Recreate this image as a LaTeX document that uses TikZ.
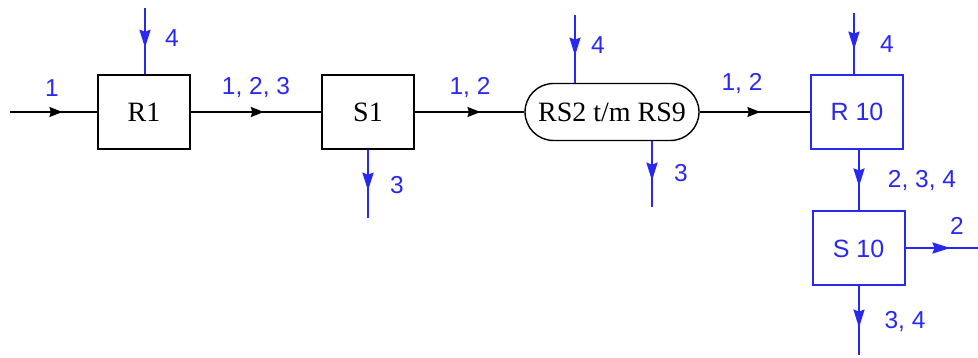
\documentclass[tikz,border=0pt]{standalone}
\usepackage{fontspec}
\setmainfont{Liberation Serif}
\setsansfont{Liberation Sans}
\usetikzlibrary{arrows.meta,decorations.markings,shapes.misc}
\definecolor{flowblue}{RGB}{40,40,240}
\begin{document}
\begin{tikzpicture}[x=1pt,y=-1pt,
  blk/.style={draw=black,line width=1.4pt,minimum width=92pt,minimum height=74pt,inner sep=0pt,font=\fontsize{28}{30}\selectfont},
  bblk/.style={draw=flowblue,line width=2pt,minimum width=92pt,minimum height=74pt,inner sep=0pt,text=flowblue,font=\sffamily\fontsize{25}{28}\selectfont},
  pill/.style={draw=black,line width=1.4pt,rounded rectangle,minimum width=174pt,minimum height=57pt,inner sep=0pt,font=\fontsize{28}{30}\selectfont},
  lbl/.style={text=flowblue,font=\sffamily\fontsize{24.5}{28}\selectfont,inner sep=0pt},
  kflow/.style={draw=black,line width=1.4pt,postaction={decorate},decoration={markings,mark=at position #1 with {\arrow{Stealth[length=13pt,width=10pt,inset=1.5pt]}}}},
  kflow/.default=0.56,
  bflow/.style={draw=flowblue,line width=2.2pt,postaction={decorate},decoration={markings,mark=at position #1 with {\arrow{Stealth[length=18pt,width=11pt,inset=2pt]}}}},
  bflow/.default=0.6]
\useasboundingbox (0,0) rectangle (978,358);
% blocks
\node[blk] (R1) at (144,112) {R1};
\node[blk] (S1) at (368,112) {S1};
\node[pill] (RS) at (612,112) {RS2 t/m RS9};
\node[bblk] (R10) at (857,112) {R 10};
\node[bblk] (S10) at (858.5,248.5) {S 10};
% free ends
\coordinate (in) at (10,112);
\coordinate (R1top) at (145,8);
\coordinate (S1bot) at (368,218);
\coordinate (RStop) at (575,15);
\coordinate (RSbot) at (652,207);
\coordinate (R10top) at (854,13);
\coordinate (S10right) at (978,248);
\coordinate (S10bot) at (859,355);
% black connectors
\draw[kflow=0.6] (in) -- (R1.west);
\draw[kflow=0.56] (R1.east) -- (S1.west);
\draw[kflow=0.6] (S1.east) -- (RS.west);
\draw[kflow=0.55] (RS.east) -- (R10.west);
% blue connectors
\draw[bflow] (R1top) -- (R1top |- R1.north);
\draw[bflow] (S1bot |- S1.south) -- (S1bot);
\draw[bflow] (RStop) -- (RStop |- RS.north);
\draw[bflow] (RSbot |- RS.south) -- (RSbot);
\draw[bflow] (R10top) -- (R10top |- R10.north);
\draw[bflow] (859,149) -- (859,211.5);
\draw[bflow=0.62] (S10.east |- S10right) -- (S10right);
\draw[bflow] (S10bot |- S10.south) -- (S10bot);
% labels
\node[lbl] (l1) at (52,88) {1};
\node[lbl] (l2) at (172,38) {4};
\node[lbl] (l3) at (256,88) {1, 2, 3};
\node[lbl] (l4) at (397,185) {3};
\node[lbl] (l5) at (470,88) {1, 2};
\node[lbl] (l6) at (598,45) {4};
\node[lbl] (l7) at (681,173) {3};
\node[lbl] (l8) at (742,84) {1, 2};
\node[lbl] (l9) at (887,44) {4};
\node[lbl] (l10) at (922,181) {2, 3, 4};
\node[lbl] (l11) at (957,226) {2};
\node[lbl] (l12) at (905,322) {3, 4};
\end{tikzpicture}
\end{document}
